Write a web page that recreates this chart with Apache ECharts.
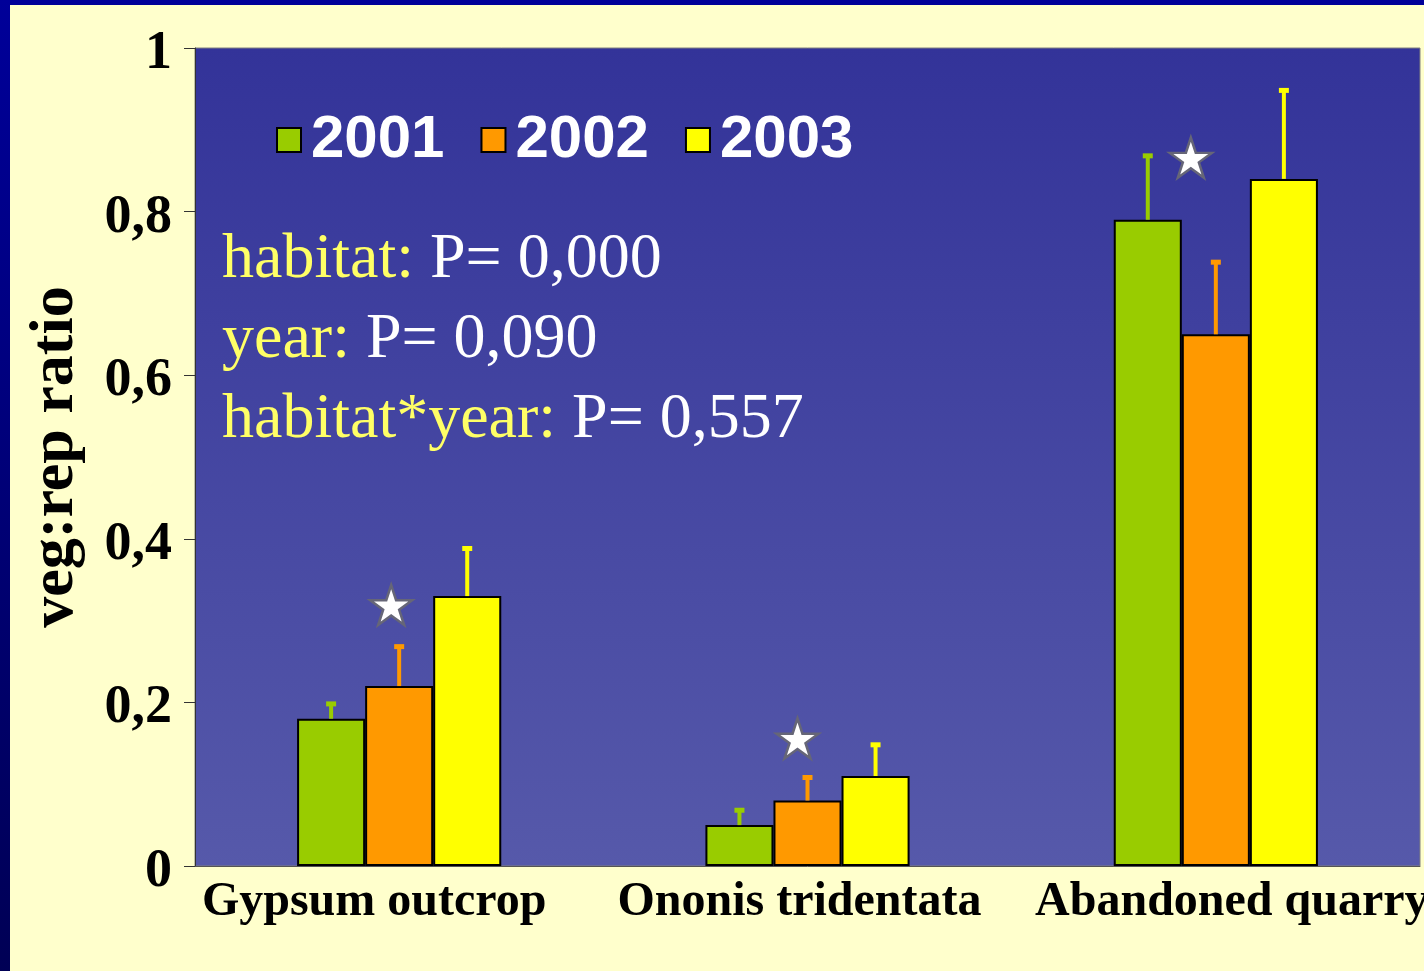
<!DOCTYPE html>
<html>
<head>
    <meta charset="UTF-8">
    <title>veg:rep ratio</title>
    <script type="text/javascript" src="https://cdn.jsdelivr.net/npm/echarts@6/dist/echarts.min.js"></script>
    <style>
        html, body { margin: 0; padding: 0; width: 1424px; height: 971px; overflow: hidden; }
        body { background: linear-gradient(#000099, #000055); position: relative; }
        #main { position: absolute; left: 10px; top: 5px; width: 1414px; height: 966px; }
    </style>
</head>
<body>

<div id="main"></div>
<script type="text/javascript">

    // data
    var categories = ['Gypsum outcrop', 'Ononis tridentata', 'Abandoned quarry'];
    var years = ['2001', '2002', '2003'];
    var colors = ['#99CC00', '#FF9900', '#FFFF00'];

    var mean2001 = [0.18, 0.05, 0.79];
    var mean2002 = [0.22, 0.08, 0.65];
    var mean2003 = [0.33, 0.11, 0.84];
    var err2001 = [0.20, 0.07, 0.87];
    var err2002 = [0.27, 0.11, 0.74];
    var err2003 = [0.39, 0.15, 0.95];

    // significance stars (value = height of the star)
    var starValues = [0.319, 0.156, 0.866];
    var starShift = [-8, -10, -25];

    var yTickLabels = ['0', '0,2', '0,4', '0,6', '0,8', '1'];
    var labelShift = [-25, -8, 16];

    var statLines = [
        ['habitat: ', 'P= 0,000'],
        ['year: ', 'P= 0,090'],
        ['habitat*year: ', 'P= 0,557']
    ];

    var means = [mean2001, mean2002, mean2003];
    var errs = [err2001, err2002, err2003];

    var myChart = echarts.init(document.getElementById('main'));

    function errorRender(k) {
        return function (params, api) {
            var ci = api.value(0);
            var base = api.coord([ci, api.value(1)]);
            var top = api.coord([ci, api.value(2)]);
            var bw = api.size([1, 0])[0] * 0.5 / 3;
            var x = base[0] + (k - 1) * bw;
            return {
                type: 'group',
                children: [{
                    type: 'line',
                    shape: { x1: x, y1: base[1], x2: x, y2: top[1] + 2 },
                    style: { stroke: colors[k], lineWidth: 4 }
                }, {
                    type: 'rect',
                    shape: { x: x - 5, y: top[1] - 1, width: 10, height: 5 },
                    style: { fill: colors[k] }
                }]
            };
        };
    }

    var series = [];
    years.forEach(function (y, k) {
        series.push({
            name: y,
            type: 'bar',
            barGap: '0%',
            barCategoryGap: '50%',
            itemStyle: { color: colors[k], borderColor: '#000', borderWidth: 2 },
            data: means[k]
        });
    });
    years.forEach(function (y, k) {
        series.push({
            type: 'custom',
            z: 3,
            silent: true,
            renderItem: errorRender(k),
            data: categories.map(function (c, i) { return [i, means[k][i], errs[k][i]]; })
        });
    });
    series.push({
        type: 'scatter',
        z: 4,
        silent: true,
        symbol: 'path://M100,0L122.45,69.1L195.11,69.1L136.33,111.8L158.78,180.9L100,138.2L41.22,180.9L63.67,111.8L4.89,69.1L77.55,69.1Z',
        symbolSize: [42, 40],
        itemStyle: { color: '#ffffff', opacity: 1, borderColor: '#666677', borderWidth: 2.5 },
        data: starValues.map(function (v, i) {
            return { value: [i, v], symbolOffset: [starShift[i], 0] };
        })
    });

    var rich = {};
    categories.forEach(function (c, i) {
        rich['c' + i] = {
            fontFamily: 'Liberation Serif',
            fontWeight: 'bold',
            fontSize: 48,
            color: '#000',
            padding: labelShift[i] < 0 ? [0, -2 * labelShift[i], 0, 0] : [0, 0, 0, 2 * labelShift[i]]
        };
    });

    var texts = statLines.map(function (l, i) {
        return {
            type: 'text',
            left: 212,
            top: 223 + i * 80,
            style: {
                text: '{a|' + l[0] + '}{b|' + l[1] + '}',
                rich: {
                    a: { fill: '#FFFF66', fontFamily: 'Liberation Serif', fontSize: 64 },
                    b: { fill: '#FFFFFF', fontFamily: 'Liberation Serif', fontSize: 64 }
                }
            }
        };
    });

    option = {
        animation: false,
        backgroundColor: '#FFFFCC',
        grid: {
            show: true,
            left: 185,
            top: 43,
            right: 4,
            bottom: 105,
            containLabel: false,
            outerBoundsMode: 'none',
            borderColor: '#808080',
            borderWidth: 1,
            backgroundColor: {
                type: 'linear', x: 0, y: 0, x2: 0, y2: 1,
                colorStops: [{ offset: 0, color: '#333399' }, { offset: 1, color: '#5659aa' }]
            }
        },
        legend: {
            left: 261,
            top: 100,
            itemWidth: 24,
            itemHeight: 24,
            itemGap: 36,
            icon: 'rect',
            data: years,
            textStyle: {
                color: '#fff',
                fontFamily: 'Liberation Sans',
                fontWeight: 'bold',
                fontSize: 60,
                padding: [0, 0, 0, 5]
            }
        },
        xAxis: [{
            type: 'category',
            data: categories,
            axisLine: { lineStyle: { color: '#555', width: 1 } },
            axisTick: { length: 14, lineStyle: { color: '#333' } },
            axisLabel: {
                margin: 13,
                formatter: function (v, i) { return '{c' + i + '|' + v + '}'; },
                rich: rich
            }
        }],
        yAxis: [{
            type: 'value',
            min: 0,
            max: 1,
            interval: 0.2,
            name: 'veg:rep ratio',
            nameLocation: 'middle',
            nameRotate: 90,
            nameGap: 108,
            nameTextStyle: {
                fontFamily: 'Liberation Serif',
                fontWeight: 'bold',
                fontSize: 62,
                color: '#000'
            },
            splitLine: { show: false },
            axisLine: { show: true, lineStyle: { color: '#333', width: 1 } },
            axisTick: { show: true, length: 11, lineStyle: { color: '#333' } },
            axisLabel: {
                margin: 23,
                formatter: function (v, i) { return '{t|' + yTickLabels[i] + '}'; },
                rich: {
                    t: {
                        fontFamily: 'Liberation Serif',
                        fontWeight: 'bold',
                        fontSize: 54,
                        color: '#000',
                        padding: [12, 0, 0, 0]
                    }
                }
            }
        }],
        graphic: texts,
        series: series
    };

    myChart.setOption(option);

</script>

</body>
</html>
